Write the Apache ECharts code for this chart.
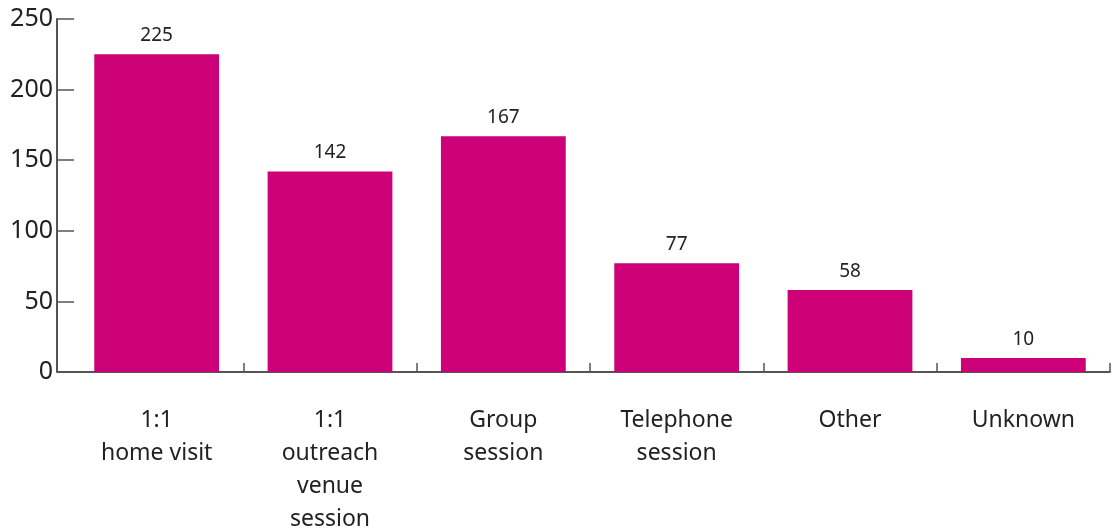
<!DOCTYPE html>
<html>
<head>
<meta charset="utf-8">
<script src="https://cdn.jsdelivr.net/npm/echarts@6/dist/echarts.min.js"></script>
<style>
  html, body { margin: 0; padding: 0; background: #fff; }
  #chart { width: 1112px; height: 529px; }
</style>
</head>
<body>
<div id="chart"></div>
<script>
// Contact types and the number of sessions of each
const categories = ['1:1\nhome visit', '1:1\noutreach\nvenue\nsession', 'Group\nsession', 'Telephone\nsession', 'Other', 'Unknown'];
const sessions = [225, 142, 167, 77, 58, 10];
const yTicks = [0, 50, 100, 150, 200, 250];

const FONT = '"Noto Sans", "Open Sans", sans-serif';
const GRID_LEFT = 70;
const Y_OFFSET = 13;
const chart = echarts.init(document.getElementById('chart'));

chart.setOption({
  animation: false,
  grid: { left: GRID_LEFT, right: 2, top: 19, bottom: 157, containLabel: false, outerBoundsMode: 'none' },
  xAxis: {
    type: 'category',
    data: categories,
    axisLine: { lineStyle: { color: '#555', width: 2 } },
    axisTick: {
      show: true, inside: true, length: 9,
      // separators between categories only; the value axis marks the left edge
      interval: (index) => index !== 0,
      lineStyle: { color: '#555', width: 1.5 }
    },
    axisLabel: {
      color: '#222', fontFamily: FONT, fontSize: 23, lineHeight: 33, margin: 32,
      interval: 0
    }
  },
  yAxis: {
    type: 'value',
    min: yTicks[0],
    max: yTicks[yTicks.length - 1],
    interval: yTicks[1] - yTicks[0],
    offset: Y_OFFSET,
    axisLine: { show: true, lineStyle: { color: '#555', width: 2 } },
    axisTick: { show: true, inside: true, length: 17, lineStyle: { color: '#555', width: 1.5 } },
    axisLabel: { color: '#222', fontFamily: FONT, fontSize: 25, margin: 4 },
    splitLine: { show: false }
  },
  series: [{
    type: 'bar',
    data: sessions,
    barCategoryGap: '28%',
    itemStyle: { color: '#CC0077' },
    label: {
      show: true, position: 'top', distance: 9,
      color: '#222', fontFamily: FONT, fontSize: 19
    }
  }]
});

// Join the baseline to the offset value axis
const baseY = chart.convertToPixel({ yAxisIndex: 0 }, yTicks[0]);
chart.setOption({
  graphic: [{
    type: 'line',
    shape: { x1: GRID_LEFT - Y_OFFSET, y1: baseY, x2: GRID_LEFT, y2: baseY },
    style: { stroke: '#555', lineWidth: 2 }
  }]
});
</script>
</body>
</html>
